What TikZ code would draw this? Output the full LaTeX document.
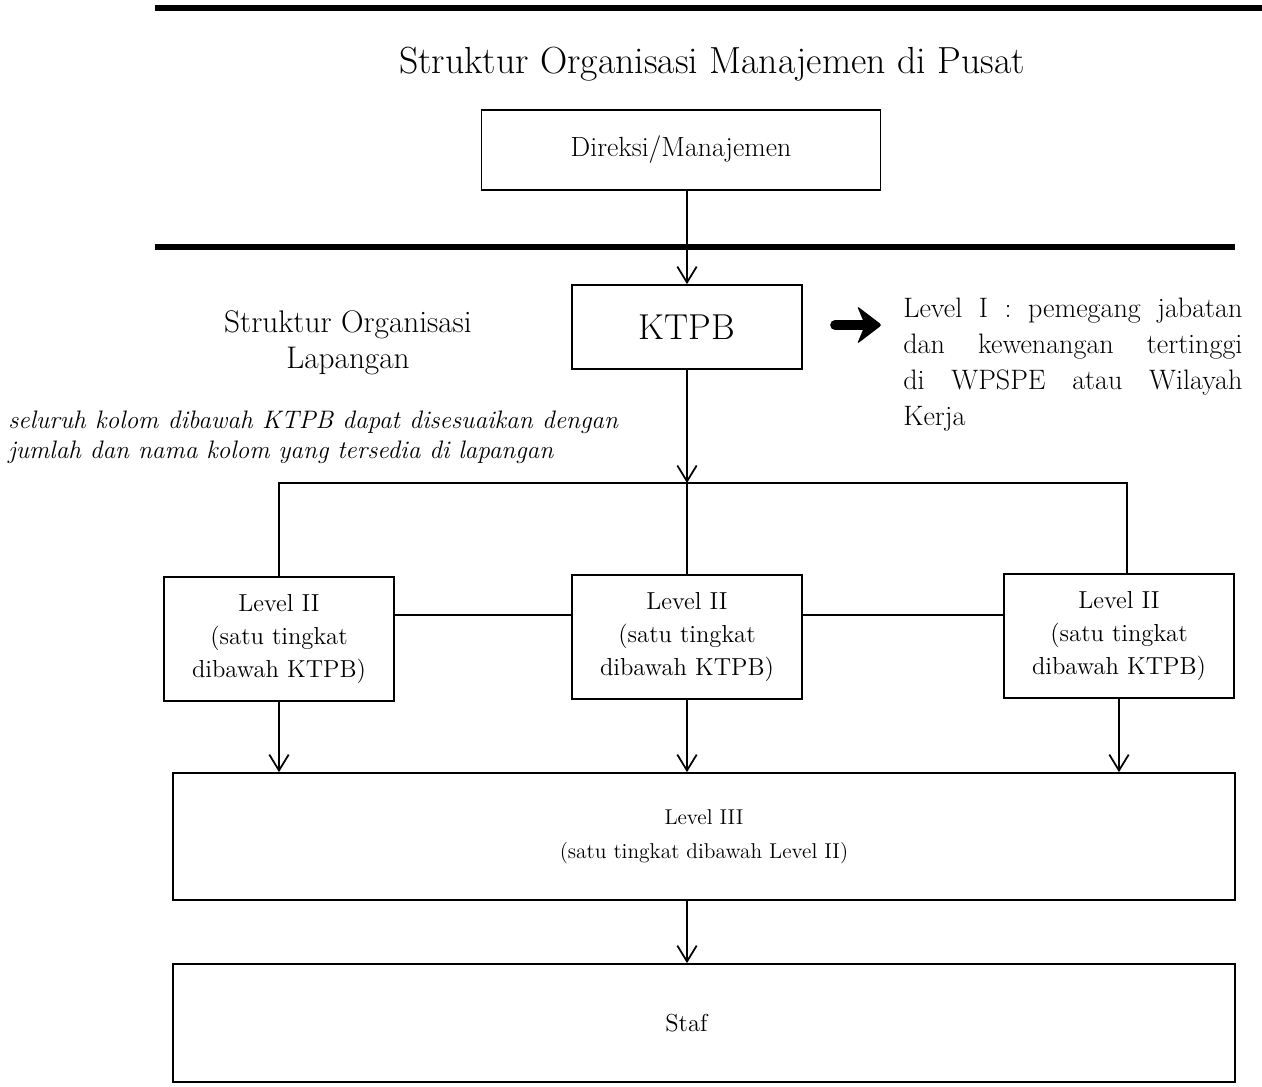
\documentclass[tikz,border=0pt]{standalone}
\usetikzlibrary{arrows.meta, positioning, calc}
\newcommand{\spreadline}[2]{\makebox[#1][s]{#2}}

\begin{document}
\begin{tikzpicture}[
    x=0.02cm, y=-0.02cm,
    box/.style={rectangle, draw, line width=1pt, inner sep=0pt, align=center},
    lvtwo/.style={box, minimum width=4.6cm, minimum height=2.48cm, font=\fontsize{14}{18.8}\selectfont},
    wide/.style={box, minimum width=21.24cm},
    arrow/.style={-{Straight Barb[length=9pt, width=11pt]}, line width=1pt},
    link/.style={line width=1pt},
    rule/.style={line width=3.2pt}
]
    \useasboundingbox (0,0) rectangle (1262,1087);

    % Pusat
    \draw[rule] (155,8) -- (1262,8);
    \node[font=\fontsize{21.5}{25}\selectfont, anchor=base] (judul) at (712,74) {Struktur Organisasi Manajemen di Pusat};
    \node[box, minimum width=7.98cm, minimum height=1.6cm, font=\fontsize{15.8}{19}\selectfont] (direksi) at (681,150) {Direksi/Manajemen};

    % Lapangan
    \node[box, minimum width=4.6cm, minimum height=1.68cm, font=\fontsize{20.5}{24}\selectfont] (ktpb) at (687,327) {KTPB};
    \draw[arrow] (direksi.south -| ktpb) -- (ktpb.north);
    \draw[rule] (155,247) -- (1235,247);

    \node[font=\fontsize{17.8}{20.5}\selectfont, align=center, anchor=north] (lapangan) at (348,304) {Struktur Organisasi\\Lapangan};
    \node[font=\fontsize{16}{20.5}\selectfont, align=left, anchor=north west, inner sep=0pt] (levelsatu) at (903,298)
        {\spreadline{193pt}{Level I : pemegang jabatan}\\\spreadline{193pt}{dan kewenangan tertinggi}\\\spreadline{193pt}{di WPSPE atau Wilayah}\\Kerja};
    \node[font=\fontsize{14.4}{17}\selectfont\itshape, align=left, anchor=north west, inner sep=0pt] (catatan) at (8,411)
        {\spreadline{347pt}{seluruh kolom dibawah KTPB dapat disesuaikan dengan}\\jumlah dan nama kolom yang tersedia di lapangan};

    % Panah tebal ke keterangan Level I
    \coordinate (panah) at (858,325);
    \draw[line width=5.5pt, line cap=round] ($(panah)+(-23,0)$) -- ($(panah)+(8,0)$);
    \fill[rounded corners=1.5pt] ($(panah)+(-1,-19)$) -- ($(panah)+(24,0)$) -- ($(panah)+(-1,19)$) -- ($(panah)+(7,0)$) -- cycle;

    % Level II
    \coordinate (bus) at (687,483);
    \coordinate (busr) at (1127,483);
    \coordinate (hline) at (0,615);
    \node[lvtwo] (lvkiri) at (279,639) {Level II\\(satu tingkat\\dibawah KTPB)};
    \node[lvtwo] (lvtengah) at (687,637) {Level II\\(satu tingkat\\dibawah KTPB)};
    \node[lvtwo] (lvkanan) at (1119,636) {Level II\\(satu tingkat\\dibawah KTPB)};

    \draw[arrow] (ktpb.south) -- (bus);
    \draw[link] (lvkiri.north) |- (busr) -- (busr |- lvkanan.north);
    \draw[link] (bus) -- (lvtengah.north);
    \draw[link] (lvkiri.east |- hline) -- (lvtengah.west |- hline);
    \draw[link] (lvtengah.east |- hline) -- (lvkanan.west |- hline);

    % Level III dan Staf
    \node[wide, minimum height=2.54cm, font=\fontsize{12.2}{19.3}\selectfont] (lvtiga) at (704,836.5) {Level III\\(satu tingkat dibawah Level II)};
    \node[wide, minimum height=2.36cm, label={[font=\fontsize{14}{16}\selectfont, xshift=-10pt]center:Staf}] (staf) at (704,1023) {};

    \draw[arrow] (lvkiri.south) -- (lvkiri.south |- lvtiga.north);
    \draw[arrow] (lvtengah.south) -- (lvtengah.south |- lvtiga.north);
    \draw[arrow] (lvkanan.south) -- (lvkanan.south |- lvtiga.north);
    \draw[arrow] (lvtiga.south -| ktpb) -- (staf.north -| ktpb);
\end{tikzpicture}
\end{document}
